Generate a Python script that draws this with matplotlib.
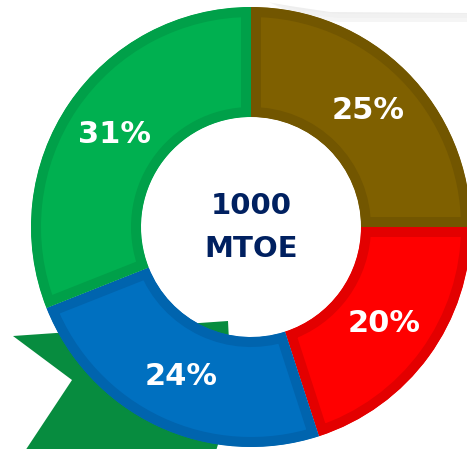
import matplotlib
matplotlib.use("Agg")
import matplotlib.pyplot as plt
from matplotlib.patches import Polygon

# ============================================
# DATA
# ============================================
shares = [25, 20, 24, 31]
fill_colors = ["#7F6000", "#FF0000", "#0070C0", "#00B050"]
edge_colors = ["#725600", "#E30000", "#0064AE", "#00A049"]
center_lines = ["1000", "MTOE"]

W, H = 467, 449
cx, cy = 251, H - 227
r_out, r_in = 220, 110

fig = plt.figure(figsize=(W / 100, H / 100), dpi=100)
ax = fig.add_axes([0, 0, 1, 1])

# light shadow band at top right
for k, a in enumerate([0.35, 0.5, 0.7]):
    off = k * 4
    shadow = Polygon([(265, H), (300, H - 10 - off), (340, H - 14 - off),
                      (W, H - 14 - off), (W, H)],
                     closed=True, facecolor="#E4E4E4", edgecolor="none",
                     alpha=a * 0.5, zorder=0)
    ax.add_patch(shadow)
ax.add_patch(Polygon([(255, H), (290, H - 6), (330, H - 12), (W, H - 13), (W, H)],
                     closed=True, facecolor="white", edgecolor="none", zorder=0.5))

# green arrow behind the ring
arrow = Polygon([(13, H - 336), (228, H - 321), (232, H - 400), (215, -5),
                 (23, -5), (72, H - 380)],
                closed=True, facecolor="#078C3F", edgecolor="none", zorder=1)
ax.add_patch(arrow)

wedges, _, autotexts = ax.pie(
    shares,
    colors=fill_colors,
    radius=r_out,
    center=(cx, cy),
    startangle=90,
    counterclock=False,
    autopct="%d%%",
    pctdistance=(r_out + r_in) / 2 / r_out,
    wedgeprops=dict(width=r_out - r_in, linewidth=14.4),
    textprops=dict(color="white", fontsize=22, fontweight="bold",
                   family="DejaVu Sans"),
    frame=True,
)
ax.set_xlim(0, W)
ax.set_ylim(0, H)
ax.set_aspect("equal")
ax.axis("off")

# darker border drawn only on the inside of each wedge
for w, ec in zip(wedges, edge_colors):
    w.set_edgecolor(ec)
    w.set_clip_path(w)
    w.set_clip_on(True)
    w.set_zorder(2)
for t in autotexts:
    t.set_zorder(3)

ax.text(cx, cy + 21, center_lines[0], ha="center", va="center", fontsize=21,
        fontweight="bold", color="#002060", family="DejaVu Sans", zorder=3)
ax.text(cx, cy - 22, center_lines[1], ha="center", va="center", fontsize=21,
        fontweight="bold", color="#002060", family="DejaVu Sans", zorder=3)

fig.savefig("out.png", dpi=100)
